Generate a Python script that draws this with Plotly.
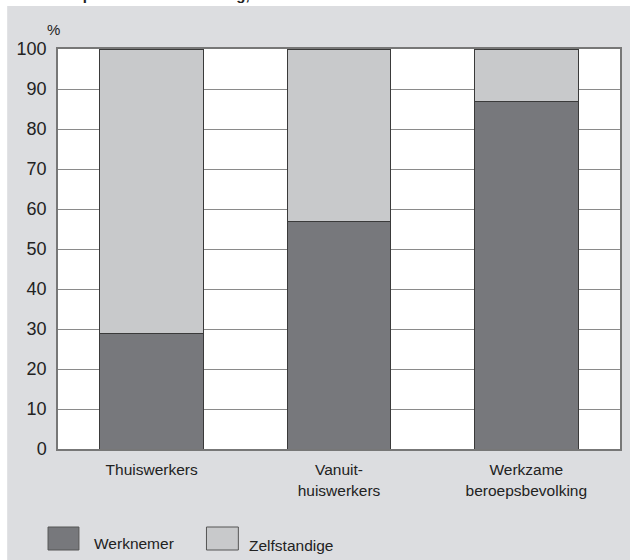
import plotly.graph_objects as go

# ── Data ────────────────────────────────────────────────────────────────────
categories = ["Thuiswerkers", "Vanuit-<br>huiswerkers", "Werkzame<br>beroepsbevolking"]
werknemer = [29, 57, 87]
zelfstandige = [71, 43, 13]
y_ticks = list(range(0, 101, 10))

# ── Style ───────────────────────────────────────────────────────────────────
DARK = "#77787c"
LIGHT = "#c8c9cb"
PANEL = "#dcdde0"
EDGE = "#3a3a3a"
FONT = "Liberation Sans, Arial, sans-serif"

W, H = 630, 560
L, R, T, B = 58, 8, 49, 111
PW, PH = W - L - R, H - T - B


def px(x):
    return (x - L) / PW


def py(y):
    return (H - B - y) / PH


fig = go.Figure()
fig.add_trace(go.Bar(
    x=categories, y=werknemer, name="Werknemer",
    marker=dict(color=DARK, line=dict(color=EDGE, width=1)),
))
fig.add_trace(go.Bar(
    x=categories, y=zelfstandige, name="Zelfstandige",
    marker=dict(color=LIGHT, line=dict(color=EDGE, width=1)),
))

shapes = [
    # white margins around the grey panel
    dict(type="rect", xref="paper", yref="paper", x0=px(-5), x1=px(W + 5),
         y0=py(6), y1=py(-5), fillcolor="white", line_width=0, layer="below"),
    dict(type="rect", xref="paper", yref="paper", x0=px(-5), x1=px(7),
         y0=py(H + 5), y1=py(-5), fillcolor="white", line_width=0, layer="below"),
    # legend boxes
    dict(type="rect", xref="paper", yref="paper", x0=px(48), x1=px(79),
         y0=py(550), y1=py(527), fillcolor=DARK, line=dict(color="#555", width=1)),
    dict(type="rect", xref="paper", yref="paper", x0=px(207), x1=px(239),
         y0=py(550), y1=py(527), fillcolor=LIGHT, line=dict(color="#555", width=1)),
]

annotations = [
    # title line, cut off by the top edge as in the source
    dict(text="<b>naar positie in de werkkring, 1999</b>", x=px(45), y=py(5),
         xref="paper", yref="paper", xanchor="left", yanchor="bottom",
         showarrow=False, font=dict(size=15, color="#222")),
    dict(text="%", x=px(45), y=py(30), xref="paper", yref="paper",
         xanchor="left", yanchor="middle", showarrow=False,
         font=dict(size=15, color="#222")),
    dict(text="Werknemer", x=px(92), y=py(543), xref="paper", yref="paper",
         xanchor="left", yanchor="middle", showarrow=False,
         font=dict(size=15.5, color="#222")),
    dict(text="Zelfstandige", x=px(248), y=py(545), xref="paper", yref="paper",
         xanchor="left", yanchor="middle", showarrow=False,
         font=dict(size=15.5, color="#222")),
]

fig.update_layout(
    width=W, height=H,
    margin=dict(l=L, r=R, t=T, b=B, pad=0),
    paper_bgcolor=PANEL,
    plot_bgcolor="white",
    font=dict(family=FONT, size=15, color="#222"),
    barmode="stack",
    bargap=0.447,
    showlegend=False,
    shapes=shapes,
    annotations=annotations,
    xaxis=dict(
        showline=True, mirror=True, linecolor="#777", linewidth=1.5,
        showgrid=False, ticks="", tickfont=dict(size=15.5),
        ticklabelstandoff=6,
    ),
    yaxis=dict(
        range=[0, 100], tickvals=y_ticks, showline=True, mirror=True,
        linecolor="#777", linewidth=1.5, showgrid=True, gridcolor="#8a8a8a",
        gridwidth=1, zeroline=False, ticks="", tickfont=dict(size=18),
        ticklabelstandoff=6,
    ),
)

# drop the default page margin so the figure sits at the window's corner
fig.write_html(
    "out.html",
    config={"displayModeBar": False},
    post_script="document.body.style.margin = '0';",
)
